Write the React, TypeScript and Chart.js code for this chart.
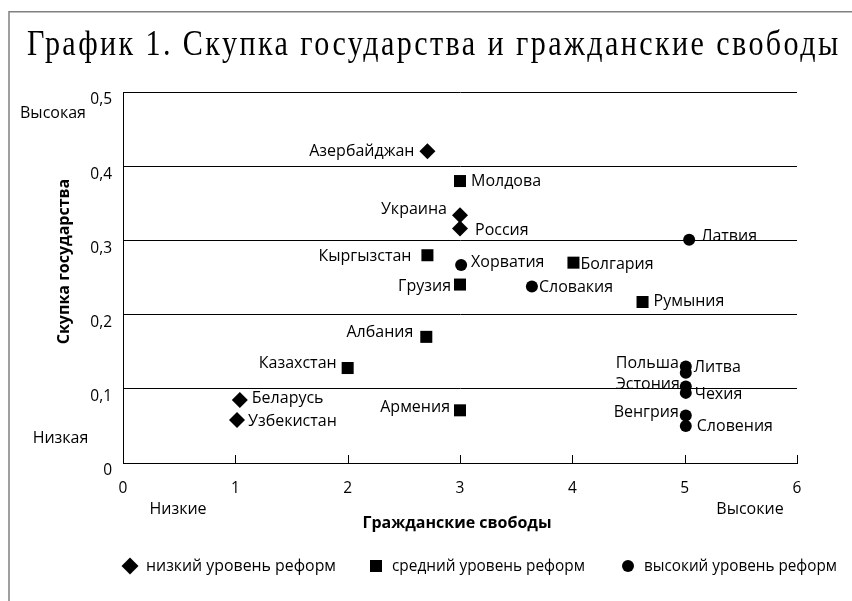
import React, { useEffect, useRef } from 'react';
import { Chart, registerables } from 'chart.js';

Chart.register(...registerables);

// ---- data ----
const titleText = 'График 1. Скупка государства и гражданские свободы';
const xAxisTitle = 'Гражданские свободы';
const yAxisTitle = 'Скупка государства';
const xLowLabel = 'Низкие';
const xHighLabel = 'Высокие';
const yHighLabel = 'Высокая';
const yLowLabel = 'Низкая';

const seriesNames = ['низкий уровень реформ', 'средний уровень реформ', 'высокий уровень реформ'];

const lowNames = ['Азербайджан', 'Украина', 'Россия', 'Беларусь', 'Узбекистан'];
const lowX = [2.71, 3.0, 3.0, 1.04, 1.015];
const lowY = [0.42, 0.334, 0.316, 0.085, 0.058];

const midNames = ['Молдова', 'Кыргызстан', 'Болгария', 'Грузия', 'Румыния', 'Албания', 'Казахстан', 'Армения'];
const midX = [3.0, 2.71, 4.01, 3.0, 4.625, 2.7, 2.0, 3.0];
const midY = [0.38, 0.28, 0.27, 0.2405, 0.217, 0.17, 0.128, 0.071];

const highNames = ['Латвия', 'Хорватия', 'Словакия', 'Польша', 'Литва', 'Эстония', 'Чехия', 'Венгрия', 'Словения'];
const highX = [5.04, 3.01, 3.64, 5.01, 5.01, 5.01, 5.01, 5.01, 5.01];
const highY = [0.301, 0.267, 0.238, 0.13, 0.1215, 0.103, 0.0945, 0.064, 0.05];

const xMin = 0, xMax = 6, xStep = 1;
const yMin = 0, yMax = 0.5, yStep = 0.1;

// ---- label placement (style): [dx, dy]; negative dx => text ends left of point ----
const labelPlacement: Record<string, [number, number]> = {
  'Азербайджан': [-13, 0],
  'Украина': [-13, -6],
  'Россия': [15, 2],
  'Беларусь': [12, -1],
  'Узбекистан': [11, 1],
  'Молдова': [11, 0],
  'Кыргызстан': [-16, 1],
  'Болгария': [7, 2],
  'Грузия': [-9, 2],
  'Румыния': [11, -1],
  'Албания': [-13, -4],
  'Казахстан': [-11, -5],
  'Армения': [-10, -3],
  'Латвия': [12, -3],
  'Хорватия': [10, -2],
  'Словакия': [7, 1],
  'Польша': [-7, -3],
  'Литва': [8, -5],
  'Эстония': [-6, -2],
  'Чехия': [9, 2],
  'Венгрия': [-7, -3],
  'Словения': [11, 1],
};

// legend layout (style)
const legendMarkerX = [130, 376, 628];
const legendTextW = [190, 193, 193];

const FONT = '"Open Sans", "Noto Sans", sans-serif';

const pts = (xs: number[], ys: number[]) => xs.map((x, i) => ({ x, y: ys[i] }));
const allNames = [lowNames, midNames, highNames];

function drawMarker(ctx: CanvasRenderingContext2D, kind: number, x: number, y: number) {
  ctx.beginPath();
  if (kind === 0) {
    const r = 8.5;
    ctx.moveTo(x - r, y); ctx.lineTo(x, y - r); ctx.lineTo(x + r, y); ctx.lineTo(x, y + r);
    ctx.closePath();
  } else if (kind === 1) {
    const s = 6;
    ctx.rect(x - s, y - s, 2 * s, 2 * s);
  } else {
    ctx.arc(x, y, 6, 0, Math.PI * 2);
  }
  ctx.fill();
}

const annotate = {
  id: 'annotate',
  afterDraw(chart: any) {
    const ctx: CanvasRenderingContext2D = chart.ctx;
    const xs = chart.scales.x;
    const ys = chart.scales.y;
    ctx.save();

    // frame
    ctx.strokeStyle = '#808080';
    ctx.lineWidth = 1.5;
    ctx.beginPath();
    ctx.moveTo(9, 601);
    ctx.lineTo(9, 11.75);
    ctx.lineTo(852, 11.75);
    ctx.stroke();

    // title (narrow, tall serif with open spacing)
    ctx.fillStyle = '#000';
    ctx.font = '35px "Liberation Serif", serif';
    ctx.textAlign = 'left';
    ctx.textBaseline = 'alphabetic';
    (ctx as any).letterSpacing = '0px';
    const sx = 0.86;
    const natural = ctx.measureText(titleText).width;
    const targetW = 811;
    const sp = (targetW / sx - natural) / (titleText.length - 1);
    ctx.save();
    ctx.translate(27, 55);
    ctx.scale(sx, 1);
    (ctx as any).letterSpacing = sp.toFixed(2) + 'px';
    ctx.fillText(titleText, 0, 0);
    (ctx as any).letterSpacing = '0px';
    ctx.restore();

    // inside tick marks on x axis
    ctx.strokeStyle = '#000';
    ctx.lineWidth = 1;
    ctx.beginPath();
    for (let v = xMin; v <= xMax; v += xStep) {
      const px = Math.round(xs.getPixelForValue(v)) + 0.5;
      ctx.moveTo(px, ys.bottom);
      ctx.lineTo(px, ys.bottom - 8);
    }
    ctx.stroke();

    // point labels
    ctx.font = `16px ${FONT}`;
    ctx.textBaseline = 'middle';
    ctx.fillStyle = '#000';
    chart.data.datasets.forEach((_ds: any, di: number) => {
      const meta = chart.getDatasetMeta(di);
      meta.data.forEach((el: any, i: number) => {
        const name = allNames[di][i];
        const [dx, dy] = labelPlacement[name] || [10, 0];
        ctx.textAlign = dx < 0 ? 'right' : 'left';
        ctx.fillText(name, el.x + dx, el.y + dy);
      });
    });

    // axis end labels
    ctx.textAlign = 'center';
    ctx.fillText(yHighLabel, 53, 113);
    ctx.fillText(yLowLabel, 60.5, 438);
    ctx.fillText(xLowLabel, 178, 509);
    ctx.fillText(xHighLabel, 750, 509);

    // axis titles
    ctx.font = `bold 16px ${FONT}`;
    ctx.fillText(xAxisTitle, 457, 523);
    ctx.save();
    ctx.translate(64, 261.5);
    ctx.rotate(-Math.PI / 2);
    ctx.fillText(yAxisTitle, 0, 0);
    ctx.restore();

    // legend
    ctx.font = `16px ${FONT}`;
    ctx.textAlign = 'left';
    const ly = 566;
    seriesNames.forEach((nm, k) => {
      ctx.fillStyle = '#000';
      const mx = legendMarkerX[k];
      drawMarker(ctx, k, mx, ly);
      const tx = mx + 16;
      const w = ctx.measureText(nm).width;
      ctx.fillText(nm, tx, ly, Math.min(w, legendTextW[k]));
    });

    ctx.restore();
  },
};

export default function App() {
  const ref = useRef<HTMLCanvasElement>(null);
  useEffect(() => {
    document.body.style.margin = '0';
    const canvas = ref.current!;
    const chart = new Chart(canvas, {
      type: 'scatter',
      data: {
        datasets: [
          {
            label: seriesNames[0],
            data: pts(lowX, lowY),
            pointStyle: 'rectRot',
            pointRadius: 8,
            pointHoverRadius: 8,
            backgroundColor: '#000',
            borderColor: '#000',
            borderWidth: 0,
          },
          {
            label: seriesNames[1],
            data: pts(midX, midY),
            pointStyle: 'rect',
            pointRadius: 8.5,
            pointHoverRadius: 8.5,
            backgroundColor: '#000',
            borderColor: '#000',
            borderWidth: 0,
          },
          {
            label: seriesNames[2],
            data: pts(highX, highY),
            pointStyle: 'circle',
            pointRadius: 6,
            pointHoverRadius: 6,
            backgroundColor: '#000',
            borderColor: '#000',
            borderWidth: 0,
          },
        ],
      },
      options: {
        responsive: false,
        maintainAspectRatio: false,
        animation: false,
        devicePixelRatio: 1,
        layout: { padding: { top: 92, right: 55, left: 0, bottom: 0 } },
        plugins: { legend: { display: false }, tooltip: { enabled: false }, title: { display: false } },
        scales: {
          x: {
            type: 'linear',
            min: xMin,
            max: xMax,
            ticks: { stepSize: xStep, padding: 16, color: '#000', font: { family: FONT, size: 15.5 } },
            grid: { display: false, drawTicks: false },
            border: { display: true, color: '#000', width: 1 },
            afterFit: (s: any) => { s.height = 138; },
          },
          y: {
            type: 'linear',
            min: yMin,
            max: yMax,
            ticks: {
              stepSize: yStep,
              padding: 11,
              labelOffset: 8,
              color: '#000',
              font: { family: FONT, size: 15.5 },
              callback: (v: any) => (Number(v) === 0 ? '0' : Number(v).toFixed(1).replace('.', ',')),
            },
            grid: { color: '#000', lineWidth: 1, drawTicks: false },
            border: { display: true, color: '#000', width: 1 },
            afterFit: (s: any) => { s.width = 123; },
          },
        },
      },
      plugins: [annotate],
    });
    return () => chart.destroy();
  }, []);
  return (
    <div style={{ position: 'relative', width: 852, height: 601, background: '#fff' }}>
      <canvas ref={ref} width={852} height={601} style={{ display: 'block' }} />
    </div>
  );
}
